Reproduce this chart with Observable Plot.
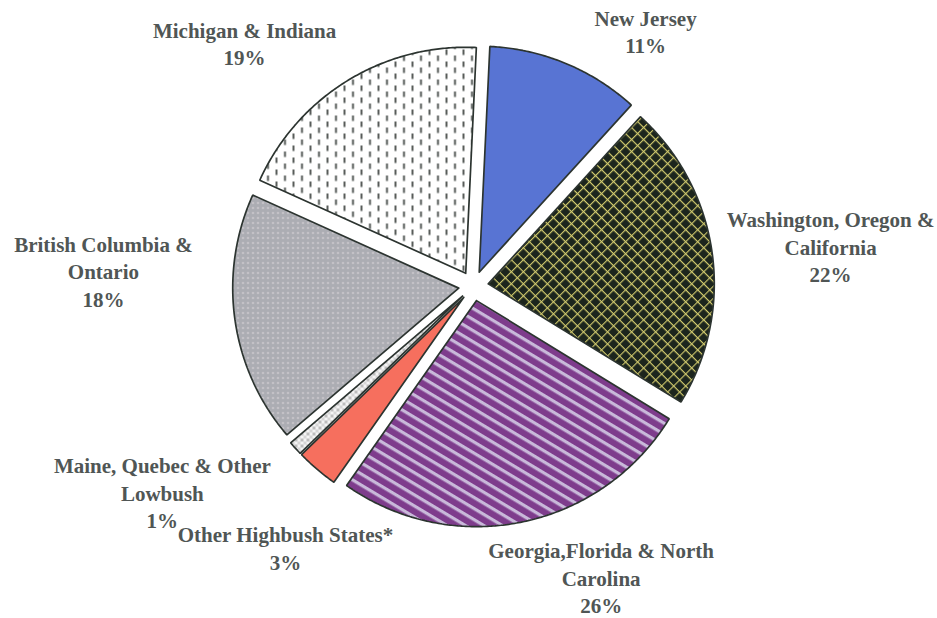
<!DOCTYPE html>
<html>
<head>
<meta charset="utf-8">
<script src="https://cdn.jsdelivr.net/npm/d3@7"></script>
<script src="https://cdn.jsdelivr.net/npm/@observablehq/plot@0.6"></script>
<style>
  html, body { margin: 0; padding: 0; background: #ffffff; }
  #chart { width: 937px; height: 618px; }
</style>
</head>
<body>
<div id="chart"></div>
<script>
// ---- data ----
const categories = [
  "New Jersey",
  "Washington, Oregon & California",
  "Georgia,Florida & North Carolina",
  "Other Highbush States*",
  "Maine, Quebec & Other Lowbush",
  "British Columbia & Ontario",
  "Michigan & Indiana"
];
const shares = [11, 22, 26, 3, 1, 18, 19];
const labelLines = [
  ["New Jersey"],
  ["Washington, Oregon &", "California"],
  ["Georgia,Florida & North", "Carolina"],
  ["Other Highbush States*"],
  ["Maine, Quebec & Other", "Lowbush"],
  ["British Columbia &", "Ontario"],
  ["Michigan & Indiana"]
];

// ---- layout / style ----
const W = 937, H = 618;
const cx = 473, cy = 285.5, R = 226;      // pie centre and radius (px)
const explode = 0.066;                     // explosion, in radius units
const firstAngle = 2.7;                    // degrees, clockwise from 12 o'clock
const fills = ["url(#pNJ)", "url(#pWA)", "url(#pGA)", "url(#pOH)", "url(#pME)", "url(#pBC)", "url(#pMI)"];
// label placement: polar (deg clockwise from top, radius units) from pie centre
const labelAngle = [34, 83.6, 156.3, 215.75, 236.5, 272.4, 316.7];
const labelRadius = [1.362, 1.590, 1.405, 1.424, 1.651, 1.639, 1.477];

const rad = d => d * Math.PI / 180;
const total = d3.sum(shares);

// build slice outlines from the shares
let acc = 0;
const slices = shares.map((v, i) => {
  const a0 = firstAngle + acc / total * 360;
  acc += v;
  const a1 = firstAngle + acc / total * 360;
  const mid = (a0 + a1) / 2;
  const ox = explode * Math.sin(rad(mid)), oy = explode * Math.cos(rad(mid));
  const pts = [{x: ox, y: oy}];
  const n = Math.max(2, Math.ceil((a1 - a0) / 0.5));
  for (let k = 0; k <= n; k++) {
    const a = rad(a0 + (a1 - a0) * k / n);
    pts.push({x: ox + Math.sin(a), y: oy + Math.cos(a)});
  }
  pts.push({x: ox, y: oy});
  return {category: categories[i], share: v, pts, fill: fills[i]};
});

const labels = categories.map((c, i) => ({
  text: [...labelLines[i], shares[i] + "%"].join("\n"),
  x: labelRadius[i] * Math.sin(rad(labelAngle[i])),
  y: labelRadius[i] * Math.cos(rad(labelAngle[i]))
}));

// pattern definitions
function defsMark() {
  const NS = "http://www.w3.org/2000/svg";
  const g = document.createElementNS(NS, "g");
  g.innerHTML = `
  <defs>
    <pattern id="pNJ" patternUnits="userSpaceOnUse" width="10" height="10">
      <rect width="10" height="10" fill="#5874d3"/>
    </pattern>
    <pattern id="pWA" patternUnits="userSpaceOnUse" width="8.5" height="8.5" patternTransform="rotate(45)">
      <rect width="8.5" height="8.5" fill="#1c251d"/>
      <path d="M0 0.6H8.5 M0.6 0V8.5" stroke="#d3cc6e" stroke-width="1.1"/>
    </pattern>
    <pattern id="pGA" patternUnits="userSpaceOnUse" width="10" height="9.5" patternTransform="rotate(31)">
      <rect width="10" height="9.5" fill="#7e3c8c"/>
      <rect y="0" width="10" height="3.2" fill="#c9b9da"/>
    </pattern>
    <pattern id="pOH" patternUnits="userSpaceOnUse" width="10" height="10">
      <rect width="10" height="10" fill="#f66f5e"/>
    </pattern>
    <pattern id="pME" patternUnits="userSpaceOnUse" width="6" height="6">
      <rect width="6" height="6" fill="#f4f4f4"/>
      <rect width="3" height="3" fill="#bdbdbd"/>
      <rect x="3" y="3" width="3" height="3" fill="#d6d6d6"/>
    </pattern>
    <pattern id="pBC" patternUnits="userSpaceOnUse" width="5" height="5">
      <rect width="5" height="5" fill="#acadb3"/>
      <circle cx="2.5" cy="2.5" r="0.8" fill="#efe8ec"/>
    </pattern>
    <pattern id="pMI" patternUnits="userSpaceOnUse" width="17" height="12">
      <rect width="17" height="12" fill="#ffffff"/>
      <path d="M4 1V6.5 M12.5 7V12.5 M12.5 -5V0.5" stroke="#3a403d" stroke-width="1.7"/>
    </pattern>
  </defs>`;
  return g;
}

const marks = [defsMark];
for (const s of slices) {
  marks.push(Plot.line(s.pts, {
    x: "x", y: "y", fill: s.fill, stroke: "#2c3430", strokeWidth: 1.7,
    strokeLinejoin: "miter", curve: "linear", title: () => `${s.category}: ${s.share}%`
  }));
}
marks.push(Plot.text(labels, {
  x: "x", y: "y", text: "text",
  fontSize: 21, fontWeight: "bold", fontFamily: "'Liberation Serif', 'Times New Roman', serif",
  fill: "#505655", lineHeight: 1.3, textAnchor: "middle", lineAnchor: "middle"
}));

const chart = Plot.plot({
  width: W, height: H,
  margin: 0,
  x: {domain: [-1, 1], range: [cx - R, cx + R], axis: null},
  y: {domain: [-1, 1], range: [cy + R, cy - R], axis: null},
  style: {background: "#ffffff", overflow: "visible"},
  marks
});
document.getElementById("chart").appendChild(chart);
</script>
</body>
</html>
